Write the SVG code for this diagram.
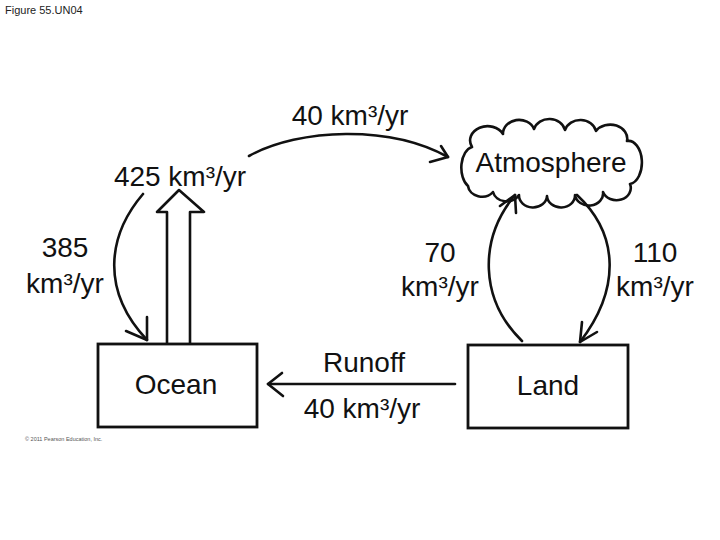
<svg xmlns="http://www.w3.org/2000/svg" width="720" height="540" viewBox="0 0 720 540">
<style>
.hand{font-family:"Liberation Sans",Arial,sans-serif;font-size:28px;fill:#111;text-anchor:middle}
.ln{fill:none;stroke:#111;stroke-width:2.6;stroke-linecap:round;stroke-linejoin:round}
.box{fill:#fff;stroke:#111;stroke-width:2.8}
</style>
<rect width="720" height="540" fill="#fff"/>
<text x="5" y="14" font-family="Liberation Sans,Arial,sans-serif" font-size="11" fill="#222">Figure 55.UN04</text>
<text x="25" y="441" font-family="Liberation Sans,Arial,sans-serif" font-size="5.5" fill="#555">© 2011 Pearson Education, Inc.</text>

<g id="connectors">
  <!-- ocean to atmosphere (40) -->
  <path class="ln" d="M249 156 C300 128 390 125 448 157"/>
  <path class="ln" d="M441 146 L448 157 L430 162"/>
  <!-- 385 atmosphere to ocean -->
  <path class="ln" d="M143 194 C108 235 100 290 147 340"/>
  <path class="ln" d="M147 317 L147 340 L126 331"/>
  <!-- 425 hollow arrow up -->
  <path class="ln" d="M167 344 L167 212 L157 212 L179 190 L204 212 L190 212 L190 344"/>
  <!-- 70 land to atmosphere -->
  <path class="ln" d="M522 341 C480 300 478 240 515 195"/>
  <path class="ln" d="M500 206 L515 195 L516 213"/>
  <!-- 110 atmosphere to land -->
  <path class="ln" d="M577 195 C620 235 620 290 580 342"/>
  <path class="ln" d="M582 322 L580 342 L597 332"/>
  <!-- runoff -->
  <path class="ln" d="M455 384 L268 384"/>
  <path class="ln" d="M282 373 L268 384 L283 396"/>
</g>

<g id="ocean">
  <rect class="box" x="98" y="344" width="159" height="83"/>
  <text class="hand" x="176" y="394" font-size="30">Ocean</text>
</g>
<g id="land">
  <rect class="box" x="468" y="345" width="160" height="83"/>
  <text class="hand" x="548" y="395" font-size="30">Land</text>
</g>
<g id="atmosphere">
  <path class="ln" d="M468 186 A13 21 0 0 1 472 147 A17 14 0 0 1 503 134 A16 14 0 0 1 534 129 A16 14 0 0 1 565 130 A16 14 0 0 1 596 131 A17 14 0 0 1 627 141 A13 21 0 0 1 630 184 A14 12 0 0 1 603 192 A14 12 0 0 1 575 195 A14 12 0 0 1 547 196 A14 12 0 0 1 519 195 A14 12 0 0 1 493 192 A14 12 0 0 1 468 186 Z" fill="#fff"/>
  <text class="hand" x="551" y="172" font-size="25">Atmosphere</text>
</g>

<g id="labels">
  <text class="hand" x="350" y="125">40 km³/yr</text>
  <text class="hand" x="180" y="186">425 km³/yr</text>
  <text class="hand" x="65" y="257">385</text>
  <text class="hand" x="65" y="293">km³/yr</text>
  <text class="hand" x="440" y="262">70</text>
  <text class="hand" x="440" y="296">km³/yr</text>
  <text class="hand" x="655" y="262">110</text>
  <text class="hand" x="655" y="296">km³/yr</text>
  <text class="hand" x="364" y="372">Runoff</text>
  <text class="hand" x="362" y="418">40 km³/yr</text>
</g>
</svg>
